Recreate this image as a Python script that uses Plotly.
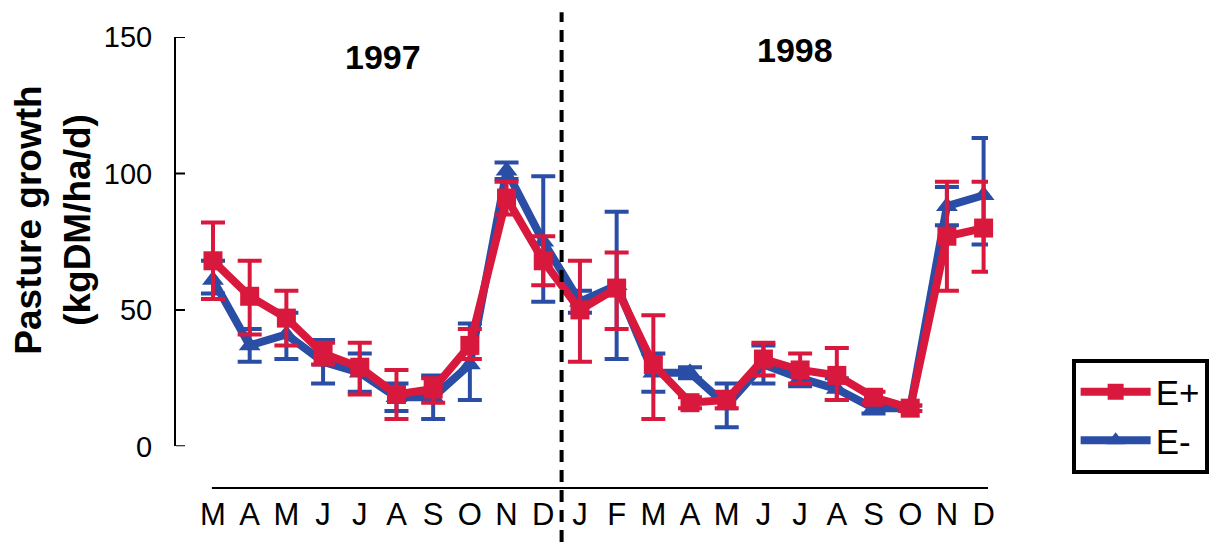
import plotly.graph_objects as go

# Month sequence, March 1997 to December 1998
months = ["M", "A", "M", "J", "J", "A", "S", "O", "N", "D",
          "J", "F", "M", "A", "M", "J", "J", "A", "S", "O", "N", "D"]
x_idx = list(range(len(months)))

# Pasture growth (kgDM/ha/d) with standard errors
e_plus = [68, 55, 47, 34, 29, 19, 21, 37, 91, 68,
          50, 58, 30, 16, 17, 32, 28, 26, 18, 14, 77, 80]
e_plus_hi = [14, 13, 10, 4, 9, 9, 4, 6, 6, 9,
             18, 13, 18, 2, 3, 6, 6, 10, 2, 1, 20, 17]
e_plus_lo = [14, 14, 10, 4, 10, 9, 5, 5, 6, 9,
             19, 15, 20, 2, 3, 6, 5, 9, 2, 1, 20, 16]

e_minus = [61, 37, 41, 31, 27, 18, 18, 30, 101, 75,
           53, 59, 27, 27, 15, 30, 25, 21, 14, 14, 88, 92]
e_minus_hi = [7, 6, 8, 8, 7, 5, 8, 15, 3, 24,
              4, 27, 7, 2, 8, 7, 3, 4, 2, 1, 7, 21]
e_minus_lo = [5, 6, 9, 8, 7, 5, 8, 13, 3, 22,
              4, 27, 7, 2, 8, 7, 3, 4, 2, 1, 7, 18]

years = ["1997", "1998"]
year_pos = [(4.63, 142.7), (15.86, 145.3)]
y_ticks = [0, 50, 100, 150]

RED = "#d8193d"
BLUE = "#2a4ea6"
FONT = "Liberation Sans, Arial, sans-serif"

fig = go.Figure()

fig.add_trace(go.Scatter(
    x=x_idx, y=e_minus, name="E-", mode="lines+markers",
    line=dict(color=BLUE, width=8),
    marker=dict(symbol="triangle-up", size=19, color=BLUE),
    error_y=dict(type="data", symmetric=False, array=e_minus_hi,
                 arrayminus=e_minus_lo, color=BLUE, thickness=4, width=12),
    cliponaxis=False,
))

fig.add_trace(go.Scatter(
    x=x_idx, y=e_plus, name="E+", mode="lines+markers",
    line=dict(color=RED, width=8),
    marker=dict(symbol="square", size=19, color=RED),
    error_y=dict(type="data", symmetric=False, array=e_plus_hi,
                 arrayminus=e_plus_lo, color=RED, thickness=4, width=12),
    cliponaxis=False,
))

# Year labels
for label, (xp, yp) in zip(years, year_pos):
    fig.add_annotation(x=xp, y=yp, text="<b>" + label + "</b>",
                       showarrow=False,
                       font=dict(family=FONT, size=34, color="black"),
                       xanchor="center", yanchor="middle")

# Y-axis title, rotated
fig.add_annotation(xref="paper", yref="paper", x=-0.152, y=0.594,
                   text="<b>Pasture growth</b><br><b>(kgDM/ha/d)</b>",
                   textangle=-90, showarrow=False,
                   font=dict(family=FONT, size=37, color="black"),
                   xanchor="center", yanchor="middle")

# Y-axis tick marks pointing into the plot
for v in y_ticks:
    fig.add_shape(type="line", xref="paper", yref="y",
                  x0=0, x1=9 / 812, y0=v, y1=v,
                  line=dict(color="black", width=2))

# Baseline under the months
fig.add_shape(type="line", xref="x", yref="paper",
              x0=-0.03, x1=21.12, y0=0, y1=0,
              line=dict(color="black", width=2))

# Divider between the two years
fig.add_shape(type="line", xref="x", yref="paper",
              x0=9.5, x1=9.5, y0=-0.12, y1=1.055,
              line=dict(color="black", width=4, dash="12px,8px"))

fig.update_layout(
    width=1225, height=544,
    margin=dict(l=176, r=237, t=37, b=52),
    paper_bgcolor="white", plot_bgcolor="white",
    font=dict(family=FONT, color="black"),
    showlegend=True,
    legend=dict(x=1.103, y=0.287, xanchor="left", yanchor="top",
                bordercolor="black", borderwidth=4, bgcolor="white",
                font=dict(family=FONT, size=35, color="black"),
                traceorder="reversed", itemwidth=70,
                entrywidth=145, entrywidthmode="pixels",
                tracegroupgap=4),
    xaxis=dict(range=[-1.008, 21.12], tickmode="array", tickvals=x_idx,
               ticktext=months, showgrid=False, zeroline=False,
               showline=False, ticks="", anchor="free", position=0,
               tickfont=dict(family=FONT, size=31, color="black"),
               ticklabelstandoff=5),
    yaxis=dict(range=[0, 150], domain=[0.0923, 1], tickvals=y_ticks,
               showgrid=False, zeroline=False, showline=True,
               linecolor="black", linewidth=2, ticks="",
               tickfont=dict(family=FONT, size=29, color="black"),
               ticklabelstandoff=16),
)

fig.write_html("out.html")
